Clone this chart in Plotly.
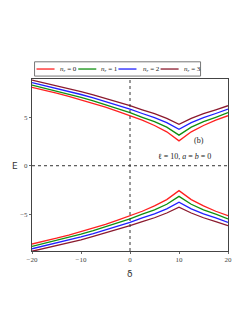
import plotly.graph_objects as go

delta = [-20, -17.5, -15, -12.5, -10, -7.5, -5, -2.5, 0, 2.5, 5, 7.5, 10, 12.5, 15, 17.5, 20]

E0_up = [8.08, 7.80, 7.48, 7.15, 6.80, 6.43, 6.04, 5.61, 5.16, 4.70, 4.15, 3.50, 2.57, 3.50, 4.15, 4.70, 5.16]
E1_up = [8.32, 8.02, 7.71, 7.39, 7.05, 6.69, 6.31, 5.92, 5.48, 5.00, 4.55, 3.98, 3.16, 3.98, 4.55, 5.00, 5.48]
E2_up = [8.57, 8.28, 7.98, 7.67, 7.35, 7.01, 6.64, 6.25, 5.84, 5.39, 4.97, 4.45, 3.76, 4.45, 4.97, 5.39, 5.84]
E3_up = [8.83, 8.54, 8.25, 7.95, 7.64, 7.30, 6.95, 6.58, 6.19, 5.77, 5.37, 4.88, 4.28, 4.88, 5.37, 5.77, 6.19]

E0_dn = [-8.08, -7.80, -7.48, -7.15, -6.80, -6.43, -6.04, -5.61, -5.16, -4.70, -4.15, -3.50, -2.57, -3.50, -4.15, -4.70, -5.16]
E1_dn = [-8.32, -8.02, -7.71, -7.39, -7.05, -6.69, -6.31, -5.92, -5.48, -5.00, -4.55, -3.98, -3.16, -3.98, -4.55, -5.00, -5.48]
E2_dn = [-8.57, -8.28, -7.98, -7.67, -7.35, -7.01, -6.64, -6.25, -5.84, -5.39, -4.97, -4.45, -3.76, -4.45, -4.97, -5.39, -5.84]
E3_dn = [-8.83, -8.54, -8.25, -7.95, -7.64, -7.30, -6.95, -6.58, -6.19, -5.77, -5.37, -4.88, -4.28, -4.88, -5.37, -5.77, -6.19]

names = ["<i>n</i><sub><i>r</i></sub> = 0", "<i>n</i><sub><i>r</i></sub> = 1",
         "<i>n</i><sub><i>r</i></sub> = 2", "<i>n</i><sub><i>r</i></sub> = 3"]
colors = ["#ff2020", "#109010", "#2020ff", "#8b1a2e"]

x_ticks = [-20, -10, 0, 10, 20]
y_ticks = [-5, 0, 5]

fig = go.Figure()
ups = [E0_up, E1_up, E2_up, E3_up]
dns = [E0_dn, E1_dn, E2_dn, E3_dn]
for i in range(4):
    fig.add_trace(go.Scatter(x=delta, y=ups[i], mode="lines", name=names[i], showlegend=False,
                             line=dict(color=colors[i], width=1.3)))
    fig.add_trace(go.Scatter(x=delta, y=dns[i], mode="lines", name=names[i], showlegend=False,
                             line=dict(color=colors[i], width=1.3)))

# zero reference lines
fig.add_shape(type="line", x0=0, x1=0, y0=0, y1=1, xref="x", yref="paper",
              line=dict(color="#333", width=1, dash="dot"))
fig.add_shape(type="line", x0=0, x1=1, y0=0, y1=0, xref="paper", yref="y",
              line=dict(color="#333", width=1, dash="dot"))

serif = "Liberation Serif"

# custom legend box
fig.add_shape(type="rect", xref="paper", yref="paper", x0=0.013, x1=0.86, y0=1.017, y1=1.10,
              line=dict(color="#777", width=1), fillcolor="white")
seg_x0 = [0.023, 0.236, 0.441, 0.656]
txt_x0 = [0.135, 0.344, 0.554, 0.763]
for i in range(4):
    fig.add_shape(type="line", xref="paper", yref="paper", x0=seg_x0[i], x1=seg_x0[i] + 0.092,
                  y0=1.058, y1=1.058, line=dict(color=colors[i], width=1.3))
    fig.add_annotation(x=txt_x0[i], y=1.058, xref="paper", yref="paper", text=names[i],
                       showarrow=False, xanchor="left", yanchor="middle",
                       font=dict(family=serif, size=7, color="#222"))

fig.add_annotation(x=0.85, y=0.64, xref="paper", yref="paper", text="(b)", showarrow=False,
                   xanchor="center", yanchor="middle", font=dict(family=serif, size=8, color="#222"))
fig.add_annotation(x=0.926, y=0.547, xref="paper", yref="paper",
                   text="ℓ = 10, <i>a</i> = <i>b</i> = 0", showarrow=False,
                   xanchor="right", yanchor="middle", font=dict(family=serif, size=8, color="#222"))
fig.add_annotation(x=-0.085, y=0, xref="paper", yref="y", text="E", showarrow=False,
                   xanchor="center", yanchor="middle",
                   font=dict(family="DejaVu Sans", size=9, color="#333"))
fig.add_annotation(x=0, y=-0.095, xref="x", yref="paper", text="δ", showarrow=False,
                   xanchor="center", yanchor="top",
                   font=dict(family="DejaVu Sans", size=9, color="#333"))

axis_common = dict(showline=True, mirror=True, linecolor="#444", linewidth=1,
                   ticks="outside", ticklen=2, tickcolor="#666", showgrid=False, zeroline=False,
                   automargin=False, tickfont=dict(family=serif, size=7, color="#444"))
fig.update_xaxes(range=[-20, 20], tickvals=x_ticks, **axis_common)
fig.update_yaxes(range=[-8.8, 8.95], tickvals=y_ticks, **axis_common)

fig.update_layout(
    width=241, height=315,
    margin=dict(l=24, r=21, t=71, b=72, autoexpand=False),
    plot_bgcolor="white", paper_bgcolor="white",
    showlegend=False,
)

fig.write_html("out.html")
